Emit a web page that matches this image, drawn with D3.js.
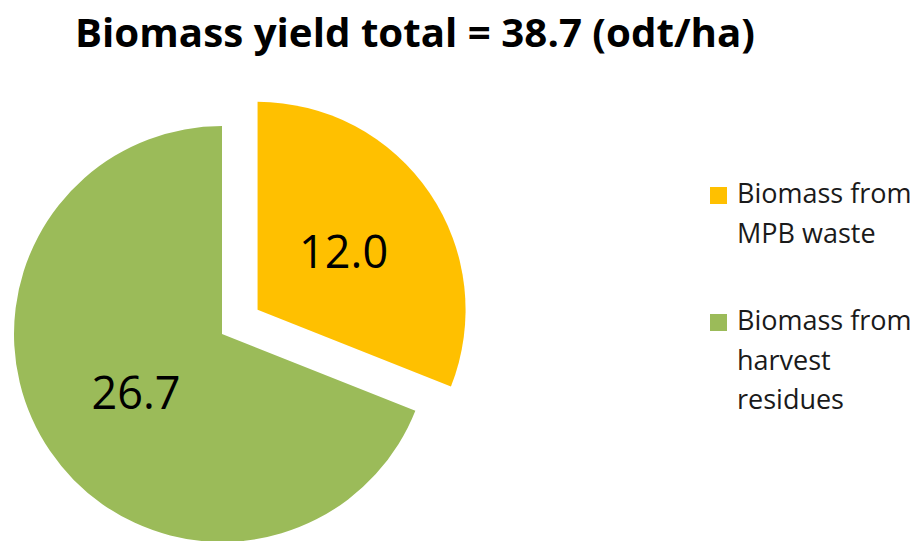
<!DOCTYPE html>
<html>
<head>
<meta charset="utf-8">
<script src="https://cdn.jsdelivr.net/npm/d3@7"></script>
<style>
  html, body { margin: 0; padding: 0; background: #fff; }
  svg { display: block; }
</style>
</head>
<body>
<svg id="chart" width="916" height="541"></svg>
<script>
// Biomass yield split by source (odt/ha)
const categories = ["Biomass from MPB waste", "Biomass from harvest residues"];
const legendLines = [["Biomass from", "MPB waste"], ["Biomass from", "harvest", "residues"]];
const values = [12.0, 26.7];
const colors = ["#FFC000", "#9BBB59"];
const titleText = "Biomass yield total = 38.7 (odt/ha)";

const svg = d3.select("#chart");

// Title
svg.append("text")
  .attr("x", 75).attr("y", 47)
  .attr("font-family", "'Open Sans', sans-serif")
  .attr("font-weight", "bold")
  .attr("font-size", 39)
  .attr("textLength", 680)
  .attr("lengthAdjust", "spacingAndGlyphs")
  .attr("fill", "#000")
  .text(titleText);

// Pie
const cx = 222, cy = 334, R = 208, explode = 43;
const data = categories.map((c, i) => ({ name: c, value: values[i], color: colors[i] }));
const pie = d3.pie().value(d => d.value).sort(null).startAngle(0).endAngle(2 * Math.PI);
const arc = d3.arc().innerRadius(0).outerRadius(R);
const arcs = pie(data);

const g = svg.append("g").attr("transform", `translate(${cx},${cy})`);

const slice = g.selectAll("g.slice").data(arcs).join("g")
  .attr("class", "slice")
  .attr("transform", (d, i) => {
    if (i !== 0) return null;
    const mid = (d.startAngle + d.endAngle) / 2;
    return `translate(${Math.sin(mid) * explode},${-Math.cos(mid) * explode})`;
  });

slice.append("path")
  .attr("d", arc)
  .attr("fill", d => d.data.color);

slice.append("text")
  .attr("transform", d => `translate(${arc.centroid(d)})`)
  .attr("text-anchor", "middle")
  .attr("dy", "0.36em")
  .attr("font-family", "'Open Sans', sans-serif")
  .attr("font-size", 45)
  .attr("fill", "#000")
  .text(d => d.data.value.toFixed(1));

// Legend
const legend = svg.append("g").attr("transform", "translate(710,0)");
const legendTop = [187, 314];
const lineH = 39.5;
data.forEach((d, i) => {
  const lg = legend.append("g").attr("transform", `translate(0,${legendTop[i]})`);
  lg.append("rect")
    .attr("x", 0).attr("y", 0)
    .attr("width", 17).attr("height", 17)
    .attr("fill", d.color);
  const t = lg.append("text")
    .attr("font-family", "'Open Sans', sans-serif")
    .attr("font-size", 27)
    .attr("fill", "#1a1a1a");
  legendLines[i].forEach((line, j) => {
    t.append("tspan")
      .attr("x", 27)
      .attr("y", 16 + j * lineH)
      .text(line);
  });
});
</script>
</body>
</html>
